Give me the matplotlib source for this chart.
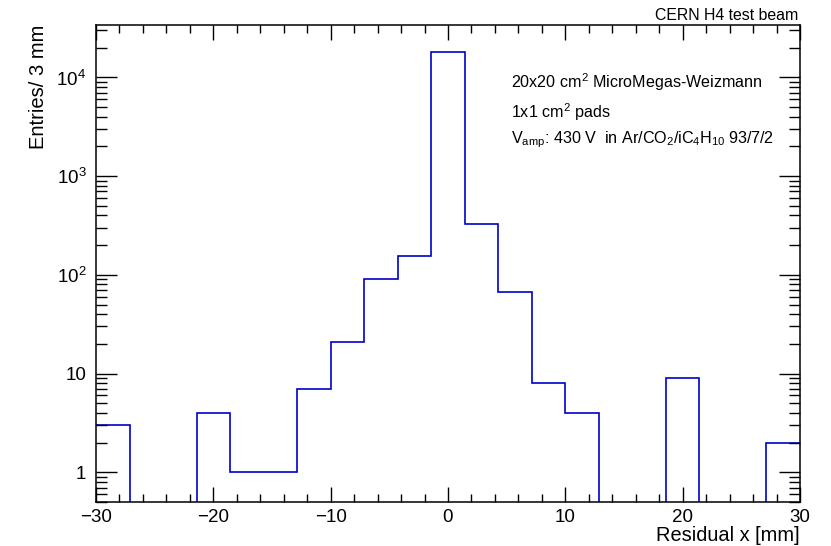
import numpy as np
import matplotlib
matplotlib.use("Agg")
import matplotlib.pyplot as plt
from matplotlib.ticker import LogLocator, FuncFormatter, MultipleLocator

plt.rcParams['font.family'] = ['Liberation Sans', 'DejaVu Sans']
plt.rcParams['mathtext.fontset'] = 'custom'
plt.rcParams['mathtext.rm'] = 'Liberation Sans'
plt.rcParams['mathtext.it'] = 'Liberation Sans'
plt.rcParams['mathtext.default'] = 'regular'

# histogram: 21 bins between -30 and 30 mm
x_min, x_max, n_bins = -30, 30, 21
counts = [3, 0, 0, 4, 1, 1, 7, 21, 90, 157, 18000,
          327, 67, 8, 4, 0, 0, 9, 0, 0, 2]

title_right = "CERN H4 test beam"
info_lines = [
    "20x20 cm$^{2}$ MicroMegas-Weizmann",
    "1x1 cm$^{2}$ pads",
    "V$_{amp}$: 430 V  in Ar/CO$_{2}$/iC$_{4}$H$_{10}$ 93/7/2",
]

edges = np.linspace(x_min, x_max, n_bins + 1)
vals = np.array(counts, dtype=float)

fig = plt.figure(figsize=(8.31, 5.46), dpi=100)
ax = fig.add_axes([0.1155, 0.0806, 0.8472, 0.8736])

ax.stairs(vals, edges, baseline=None, color='#0000cc', linewidth=1.2)

ax.set_yscale('log', nonpositive='clip')
ax.set_xlim(x_min, x_max)
ax.set_ylim(0.5, 34000)

ax.xaxis.set_major_locator(MultipleLocator(10))
ax.xaxis.set_minor_locator(MultipleLocator(2))
ax.yaxis.set_major_locator(LogLocator(base=10, numticks=10))
ax.yaxis.set_minor_locator(LogLocator(base=10, subs=np.arange(2, 10), numticks=20))

def ylab(v, pos):
    e = int(round(np.log10(v)))
    if e == 0:
        return "1"
    if e == 1:
        return "10"
    return "10$^{%d}$" % e

ax.yaxis.set_major_formatter(FuncFormatter(ylab))

ax.tick_params(which='both', direction='in', top=True, right=True, labelsize=13.5)
ax.tick_params(axis='x', which='major', length=10.5, width=1, pad=5)
ax.tick_params(axis='x', which='minor', length=5.5, width=1)
ax.tick_params(axis='y', which='major', length=15, width=1, pad=7)
ax.tick_params(axis='y', which='minor', length=8, width=1)
for s in ax.spines.values():
    s.set_linewidth(1.1)

ax.set_xlabel("Residual x [mm]", fontsize=14.4, loc='right', labelpad=0)
ax.set_ylabel("Entries/ 3 mm", fontsize=14.5, loc='top', labelpad=6)

fig.text(0.961, 0.972, title_right, ha='right', va='center', fontsize=11.4)
for i, yy in enumerate([0.880, 0.818, 0.759]):
    ax.text(0.589, yy, info_lines[i], transform=ax.transAxes,
            ha='left', va='center', fontsize=11.6)

fig.savefig("out.png", dpi=100)
